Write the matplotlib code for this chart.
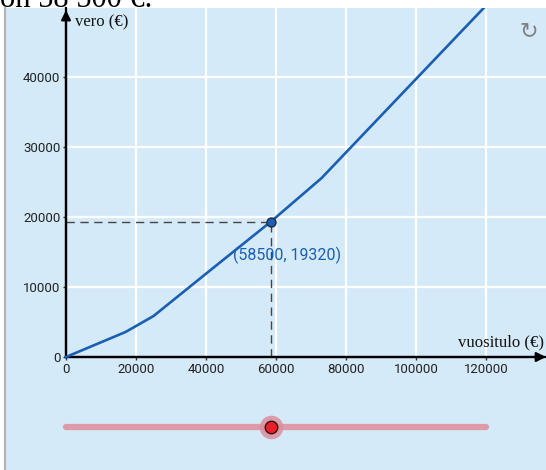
import matplotlib.pyplot as plt
from matplotlib.lines import Line2D

# tax curve (annual income -> tax)
income = [0, 17000, 25000, 40000, 58500, 73000, 120000]
tax = [0, 3570, 5850, 11900, 19320, 25550, 50200]

point_x = 58500
point_y = 19320

x_ticks = [0, 20000, 40000, 60000, 80000, 100000, 120000]
y_ticks = [0, 10000, 20000, 30000, 40000]

slider_min = 0
slider_max = 120000

plt.rcParams['font.family'] = ['Roboto', 'DejaVu Sans']

fig = plt.figure(figsize=(5.46, 4.70), dpi=100)
fig.patch.set_facecolor('white')

# graphics panel (light blue), data range chosen so 20000 = 70 px
ax = fig.add_axes([6 / 546, 0, 540 / 546, 462 / 470])
ax.set_facecolor('#d5eaf8')
ax.set_xlim(-17143, 137143)
ax.set_ylim(-16143, 49857)

xmax = ax.get_xlim()[1]
ymax = ax.get_ylim()[1]

# white grid only in the positive quadrant
ax.vlines(x_ticks[1:], 0, ymax, color='white', lw=1.6, zorder=1)
ax.hlines(y_ticks[1:], 0, xmax, color='white', lw=1.6, zorder=1)

# axes through the origin
for s in ['top', 'right']:
    ax.spines[s].set_visible(False)
ax.spines['left'].set_position(('data', 0))
ax.spines['bottom'].set_position(('data', 0))
ax.spines['left'].set_bounds(0, ymax)
ax.spines['bottom'].set_bounds(0, xmax)
ax.spines['left'].set_linewidth(1.6)
ax.spines['bottom'].set_linewidth(1.6)
ax.set_xticks(x_ticks)
ax.set_yticks(y_ticks)
ax.tick_params(length=2, width=1, color='#333333', labelsize=9.5, labelcolor='#222222', pad=2)

ax.annotate('', xy=(0, ymax - 300), xytext=(0, 0),
            arrowprops=dict(arrowstyle='-|>', lw=1.6, color='black', mutation_scale=14, shrinkA=0, shrinkB=0))
ax.annotate('', xy=(xmax, 0), xytext=(0, 0),
            arrowprops=dict(arrowstyle='-|>', lw=1.6, color='black', mutation_scale=14, shrinkA=0, shrinkB=0))

ax.text(2500, ymax - 2000, 'vero (€)', fontsize=12, va='center', ha='left', color='#111111',
        family='Liberation Serif')
ax.text(xmax - 500, 1000, 'vuositulo (€)', fontsize=12, va='bottom', ha='right', color='#111111',
        family='Liberation Serif')

# curve
ax.plot(income, tax, color='#1a5fb4', lw=1.9, zorder=3, clip_on=True)

# dashed guides to the point
ax.plot([0, point_x], [point_y, point_y], color='#444444', lw=1, dashes=(6, 4), zorder=2)
ax.plot([point_x, point_x], [0, point_y], color='#444444', lw=1, dashes=(6, 4), zorder=2)
ax.plot([point_x], [point_y], 'o', ms=6.5, mfc='#1a5fb4', mec='#1b2b45', mew=1, zorder=4)
ax.annotate(f'({point_x}, {point_y})', xy=(point_x, point_y), xytext=(12, -24),
            textcoords='offset points', ha='center', va='center', fontsize=11.5, color='#1a5fb4')

# slider below the graph
ax.plot([slider_min, slider_max], [-10000, -10000], color='#de9aa6', lw=4.5,
        solid_capstyle='round', zorder=2, clip_on=False)
ax.plot([point_x], [-10000], 'o', ms=17, mfc='#dc8f9c', mec='none', alpha=0.85, zorder=3)
ax.plot([point_x], [-10000], 'o', ms=9, mfc='#e8202a', mec='#3a1010', mew=1, zorder=4)

# reload icon at the top right
ax.text(xmax - 2200, ymax - 3300, '↻', fontsize=16, color='#808080', ha='right', va='center',
        family='DejaVu Sans')

# gray left border and the clipped text above
fig.add_artist(Line2D([5 / 546, 5 / 546], [0, 462 / 470], color='#b3b3b3', lw=1.6))
fig.text(0.0, 1 - 7 / 470, 'on 58 500 €.', family='Liberation Serif', fontsize=22,
         va='baseline', ha='left', color='black')

fig.savefig('out.png', dpi=100)
